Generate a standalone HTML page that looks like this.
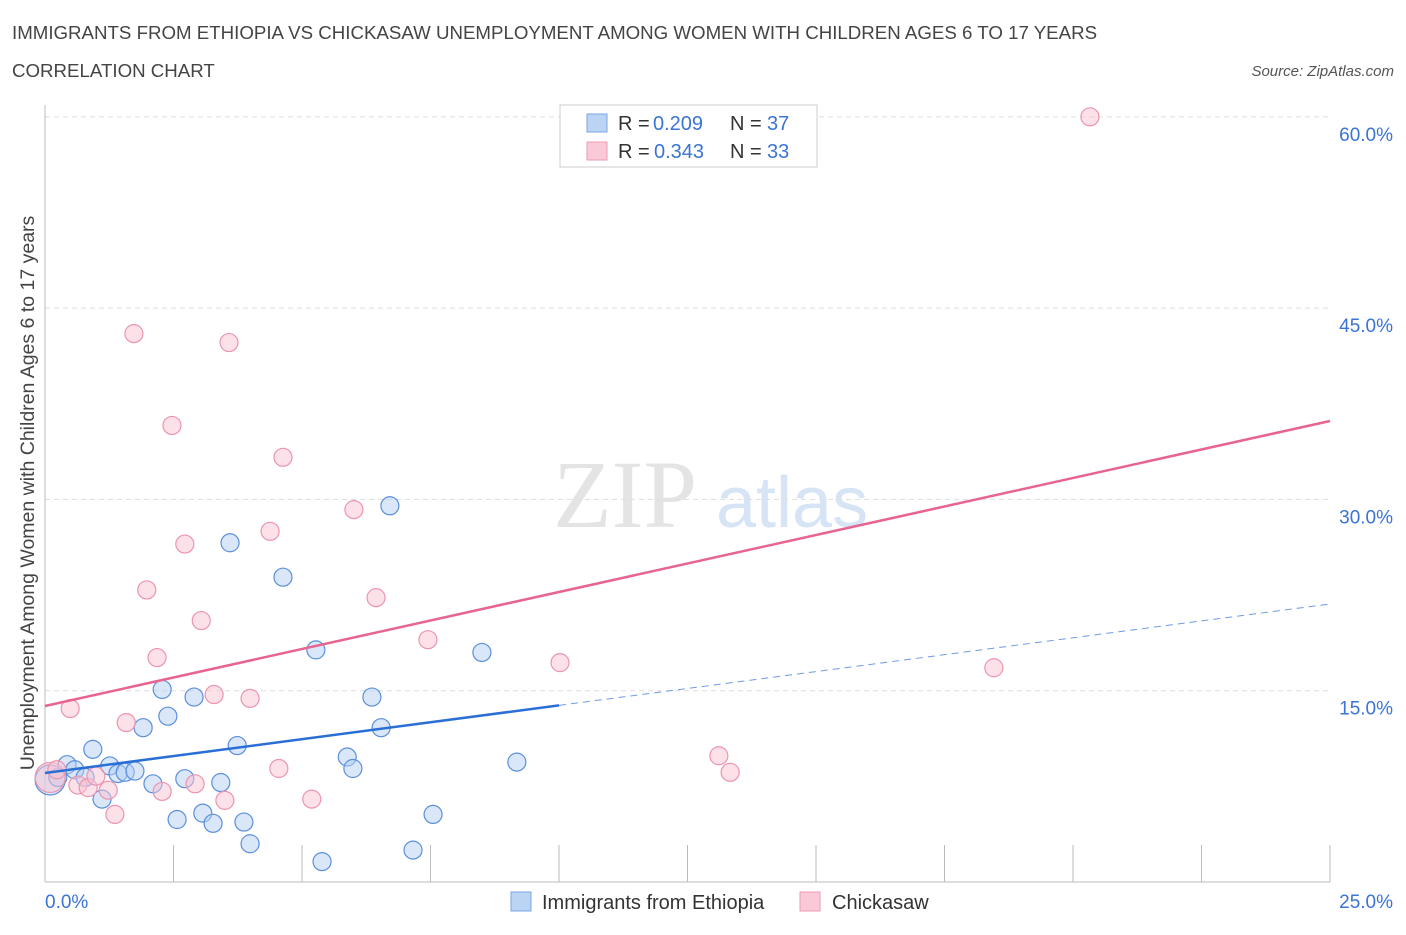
<!DOCTYPE html>
<html><head><meta charset="utf-8"><style>
body{margin:0;background:#fff;font-family:"Liberation Sans",sans-serif}
</style></head><body>
<svg id="chart" width="1406" height="930" xmlns="http://www.w3.org/2000/svg" font-family="Liberation Sans, sans-serif">
<text x="12" y="39" font-size="18.7" fill="#444">IMMIGRANTS FROM ETHIOPIA VS CHICKASAW UNEMPLOYMENT AMONG WOMEN WITH CHILDREN AGES 6 TO 17 YEARS</text>
<text x="12" y="77" font-size="18.7" fill="#444">CORRELATION CHART</text>
<text x="1394" y="76" font-size="15" fill="#555" text-anchor="end" font-style="italic">Source: ZipAtlas.com</text>
<text x="553" y="527" font-size="96" fill="#e4e4e4" font-family="Liberation Serif, serif">ZIP</text>
<text x="716" y="527" font-size="72" fill="#d6e4f5">atlas</text>
<text transform="translate(34,493) rotate(-90)" font-size="19.5" fill="#444" text-anchor="middle">Unemployment Among Women with Children Ages 6 to 17 years</text>
<g id="grid"></g><g id="pts"></g><g id="lines"></g>
<rect x="560" y="105" width="257" height="62" fill="#fff" stroke="#ccc"/>
<rect x="587" y="114" width="20" height="18" fill="#bcd4f4" stroke="#7aa6e2"/>
<rect x="587" y="142" width="20" height="18" fill="#f9c9d7" stroke="#ee9ab2"/>
<text x="618" y="130" font-size="20" fill="#333">R = <tspan x="653" fill="#3a74d4">0.209</tspan><tspan x="730">N = </tspan><tspan x="767" fill="#3a74d4">37</tspan></text>
<text x="618" y="158" font-size="20" fill="#333">R = <tspan x="654" fill="#3a74d4">0.343</tspan><tspan x="730">N = </tspan><tspan x="767" fill="#3a74d4">33</tspan></text>
<rect x="511" y="892" width="20" height="19" fill="#bcd4f4" stroke="#7aa6e2"/>
<text x="542" y="909" font-size="20" fill="#333">Immigrants from Ethiopia</text>
<rect x="800" y="892" width="20" height="19" fill="#f9c9d7" stroke="#ee9ab2"/>
<text x="832" y="909" font-size="20" fill="#333">Chickasaw</text>
</svg>
<script>
const yTicks=[15,30,45,60];
const xTickLabels=["0.0%","25.0%"];
const blueX=[0.10,0.25,0.43,0.58,0.78,0.93,1.11,1.26,1.42,1.56,1.75,1.91,2.10,2.28,2.39,2.57,2.72,2.90,3.07,3.27,3.42,3.60,3.74,3.87,3.99,4.63,5.27,5.39,5.88,5.99,6.36,6.54,6.71,7.16,7.55,8.50,9.18];
const blueY=[8.0,8.2,9.2,8.8,8.2,10.4,6.5,9.1,8.5,8.6,8.7,12.1,7.7,15.1,13.0,4.9,8.1,14.5,5.4,4.6,7.8,26.6,10.7,4.7,3.0,23.9,18.2,1.6,9.8,8.9,14.5,12.1,29.5,2.5,5.3,18.0,9.4];
const pinkX=[0.10,0.23,0.49,0.64,0.84,0.99,1.23,1.36,1.58,1.73,1.98,2.18,2.28,2.47,2.72,2.92,3.04,3.29,3.50,3.58,3.99,4.38,4.55,4.63,5.19,6.01,6.44,7.45,10.02,13.11,13.33,18.46,20.33];
const pinkY=[8.2,8.8,13.6,7.6,7.4,8.3,7.2,5.3,12.5,43.0,22.9,17.6,7.1,35.8,26.5,7.7,20.5,14.7,6.4,42.3,14.4,27.5,8.9,33.3,6.5,29.2,22.3,19.0,17.2,9.9,8.6,16.8,60.0];
const blueTrend=[8.55,21.8];
const pinkTrend=[13.8,36.15];
const NS="http://www.w3.org/2000/svg";
const sx=v=>45+v/25*1285, sy=v=>882-v*12.753;
function mk(t,a,p){const e=document.createElementNS(NS,t);for(const k in a)e.setAttribute(k,a[k]);p.appendChild(e);return e;}
const g=document.getElementById('grid');
yTicks.forEach(t=>{
 const l=mk('line',{x1:45,x2:1330,y1:sy(t),y2:sy(t),stroke:'#ddd','stroke-dasharray':'5,4'},g);
 
 
 const tx=mk('text',{x:1393,y:sy(t)+24,'font-size':19,fill:'#3a74d4','text-anchor':'end'},g);tx.textContent=t.toFixed(1)+'%';
 
 
});
const ax=mk('line',{x1:45,x2:45,y1:105,y2:882,stroke:'#bbb'},g);


const bx=mk('line',{x1:45,x2:1330,y1:882,y2:882,stroke:'#bbb'},g);


for(let i=1;i<=10;i++){const t=mk('line',{x1:sx(i*2.5),x2:sx(i*2.5),y1:845,y2:882,stroke:'#bbb'},g);
 
 }
const xl0=mk('text',{x:45,y:908,'font-size':19,fill:'#3a74d4'},g);xl0.textContent=xTickLabels[0];


const xl1=mk('text',{x:1393,y:908,'font-size':19,fill:'#3a74d4','text-anchor':'end'},g);xl1.textContent=xTickLabels[1];


const P=document.getElementById('pts');
function dots(X,Y,f,s,n){X.forEach((x,i)=>{const c=mk('circle',{cx:sx(x),cy:sy(Y[i]),r:i==0?15:9,fill:f,'fill-opacity':0.5,stroke:s,'stroke-width':1.2},P);
 
 });}
dots(blueX,blueY,'#b4cff2','#5b8fdc','ethiopia-point');
dots(pinkX,pinkY,'#f9c4d3','#ec94ae','chickasaw-point');
const L=document.getElementById('lines');
const bt=v=>blueTrend[0]+(blueTrend[1]-blueTrend[0])*v/25;
const pt=v=>pinkTrend[0]+(pinkTrend[1]-pinkTrend[0])*v/25;
const l1=mk('line',{x1:sx(0),y1:sy(bt(0)),x2:sx(10),y2:sy(bt(10)),stroke:'#2a6fd6','stroke-width':2.5},L);


const l2=mk('line',{x1:sx(10),y1:sy(bt(10)),x2:sx(25),y2:sy(bt(25)),stroke:'#6f9be0','stroke-width':1,'stroke-dasharray':'7,5'},L);


const l3=mk('line',{x1:sx(0),y1:sy(pt(0)),x2:sx(25),y2:sy(pt(25)),stroke:'#e8648e','stroke-width':2.5},L);


</script>
</body></html>
